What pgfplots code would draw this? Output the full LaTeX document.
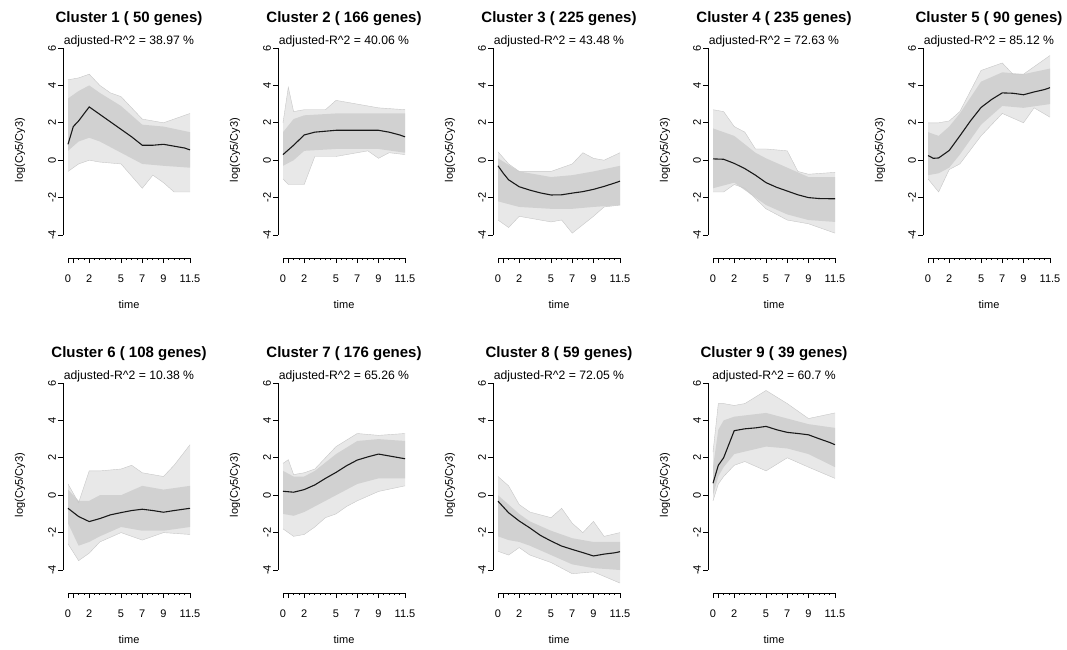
\documentclass[border=0pt]{standalone}
\usepackage{pgfplots}
\pgfplotsset{compat=1.18}
\usepgfplotslibrary{fillbetween}
\usepackage{fontspec}
\setmainfont{Liberation Sans}
\definecolor{bandout}{gray}{0.91}
\definecolor{bandin}{gray}{0.82}
\definecolor{bandedge}{gray}{0.78}
\definecolor{meanline}{gray}{0.10}
\pgfplotsset{
  panelstyle/.style={
    anchor=south west,
    scale only axis, width=122pt, height=187pt,
    xmin=0, xmax=11.5, ymin=-4, ymax=6,
    clip=false,
    axis x line*=bottom, axis y line*=left,
    axis x line shift=23pt, axis y line shift=5pt,
    x axis line style={-, line width=0.8pt},
    y axis line style={-, line width=0.8pt},
    xtick={0,0.5,2,5,7,9,11.5},
    xticklabels={0,,2,5,7,9,11.5},
    minor xtick={1,1.5,2.5,3,3.5,4,4.5,5.5,6,6.5,7.5,8,8.5,9.5,10,10.5,11},
    ytick={-4,-2,0,2,4,6},
    yticklabels={-4,-2,0,2,4,6},
    tick align=outside,
    major tick length=5pt, minor tick length=2pt,
    every tick/.style={black, line width=0.8pt},
    ticklabel style={font=\fontsize{11}{12}\selectfont},
    yticklabel style={rotate=90, anchor=south, yshift=-1.5pt},
    xticklabel style={anchor=north, yshift=-8pt},
    xlabel={time}, ylabel={log(Cy5/Cy3)},
    label style={font=\fontsize{11}{12}\selectfont},
    xlabel style={at={(axis description cs:0.5,-0.374)}, anchor=center},
    ylabel style={at={(axis description cs:-0.393,0.455)}, anchor=center},
  }
}
\newcommand{\panel}[9]{%
\begin{axis}[panelstyle, at={(68pt+215pt*#1, 414pt-335pt*#2)}]
 \addplot[name path=ou, draw=bandedge, line width=0.4pt] coordinates {#5};
 \addplot[name path=ol, draw=bandedge, line width=0.4pt] coordinates {#6};
 \addplot[fill=bandout, draw=none] fill between[of=ou and ol];
 \addplot[name path=iu, draw=none] coordinates {#7};
 \addplot[name path=il, draw=none] coordinates {#8};
 \addplot[fill=bandin, draw=none] fill between[of=iu and il];
 \addplot[meanline, line width=1.1pt] coordinates {#9};
 \node[font=\bfseries\fontsize{15}{17}\selectfont] at (axis description cs:0.5,1) [yshift=29pt] {#3};
 \node[font=\fontsize{12.2}{14}\selectfont] at (axis description cs:0.5,1) [yshift=7pt] {adjusted-R\textasciicircum 2 = #4 \%};
\end{axis}}
\begin{document}
\begin{tikzpicture}
\path (0,0) rectangle (1067pt,649pt);
% Cluster 1
\panel{0}{0}{Cluster 1 ( 50 genes)}{38.97}
 {(0,4.3)(1,4.4)(2,4.6)(3,4.0)(4,3.6)(5,3.4)(7,2.2)(9,2.0)(10,2.2)(11.5,2.5)}
 {(0,-0.6)(1,-0.2)(2,0.0)(3,-0.1)(5,-0.2)(7,-1.5)(8,-0.8)(9,-1.2)(10,-1.7)(11.5,-1.7)}
 {(0,3.3)(1,3.7)(2,4.0)(3,3.6)(5,2.9)(7,1.9)(9,1.8)(11.5,1.5)}
 {(0,0.5)(1,1.0)(2,1.2)(3,1.0)(5,0.4)(7,-0.2)(9,-0.3)(11.5,-0.4)}
 {(0,0.85)(0.5,1.8)(1,2.1)(2,2.85)(3,2.45)(4,2.05)(5,1.65)(6,1.25)(7,0.8)(8,0.8)(9,0.85)(10,0.75)(11,0.65)(11.5,0.55)}
% Cluster 2
\panel{1}{0}{Cluster 2 ( 166 genes)}{40.06}
 {(0,2.0)(0.5,3.9)(1,2.6)(2,2.7)(4,2.7)(5,3.2)(7,3.0)(9,2.8)(11.5,2.7)}
 {(0,-1.0)(0.5,-1.3)(1,-1.3)(2,-1.3)(3,0.2)(5,0.2)(7,0.4)(8,0.5)(9,0.1)(10,0.4)(11.5,0.3)}
 {(0,1.5)(1,2.2)(2,2.4)(5,2.5)(9,2.5)(11.5,2.5)}
 {(0,-0.3)(1,0.0)(2,0.5)(5,0.6)(9,0.6)(11.5,0.4)}
 {(0,0.3)(0.5,0.55)(1,0.8)(2,1.35)(3,1.5)(4,1.55)(5,1.6)(6,1.6)(7,1.6)(8,1.6)(9,1.6)(10,1.5)(11,1.35)(11.5,1.25)}
% Cluster 3
\panel{2}{0}{Cluster 3 ( 225 genes)}{43.48}
 {(0,0.45)(1,-0.2)(2,-0.6)(5,-0.6)(7,-0.2)(8,0.4)(9,0.1)(10,0.0)(11.5,0.4)}
 {(0,-3.2)(1,-3.6)(2,-3.0)(5,-3.3)(6,-3.2)(7,-3.9)(9,-3.0)(10,-2.5)(11.5,-2.4)}
 {(0,0.1)(2,-0.6)(5,-0.9)(7,-0.8)(9,-0.6)(11.5,-0.3)}
 {(0,-2.2)(2,-2.5)(5,-2.6)(7,-2.6)(9,-2.5)(11.5,-2.4)}
 {(0,-0.3)(0.5,-0.7)(1,-1.05)(2,-1.42)(3,-1.6)(4,-1.75)(5,-1.86)(6,-1.85)(7,-1.76)(8,-1.68)(9,-1.56)(10,-1.4)(11,-1.22)(11.5,-1.12)}
% Cluster 4
\panel{3}{0}{Cluster 4 ( 235 genes)}{72.63}
 {(0,2.7)(1,2.6)(2,1.8)(3,1.5)(4,0.6)(5,0.6)(7,0.5)(8,-0.6)(9,-0.75)(11.5,-0.65)}
 {(0,-1.7)(1,-1.7)(2,-1.3)(3,-1.5)(5,-2.6)(7,-3.2)(9,-3.4)(11.5,-3.9)}
 {(0,1.7)(2,1.3)(4,0.4)(5,0.1)(7,-0.4)(9,-0.9)(11.5,-0.9)}
 {(0,-1.5)(2,-1.2)(4,-2.0)(5,-2.4)(7,-2.9)(9,-3.2)(11.5,-3.3)}
 {(0,0.07)(1,0.05)(2,-0.17)(3,-0.45)(4,-0.8)(5,-1.2)(6,-1.45)(7,-1.65)(8,-1.85)(9,-2.0)(10,-2.05)(11,-2.06)(11.5,-2.06)}
% Cluster 5
\panel{4}{0}{Cluster 5 ( 90 genes)}{85.12}
 {(0,2.0)(1,2.0)(2,2.1)(3,2.6)(5,4.8)(7,5.2)(8,4.6)(9,4.6)(11.5,5.6)}
 {(0,-1.0)(1,-1.7)(2,-0.5)(3,-0.2)(5,1.3)(7,2.5)(9,2.0)(10,2.8)(11.5,2.3)}
 {(0,1.5)(1,1.3)(2,1.8)(3,2.5)(5,4.2)(7,4.7)(9,4.6)(11.5,4.9)}
 {(0,-0.8)(1,-0.7)(2,-0.4)(3,0.3)(5,1.9)(7,2.9)(9,2.8)(11.5,3.0)}
 {(0,0.25)(0.5,0.1)(1,0.12)(2,0.52)(3,1.3)(4,2.1)(5,2.82)(6,3.25)(7,3.6)(8,3.58)(9,3.5)(10,3.65)(11,3.78)(11.5,3.88)}
% Cluster 6
\panel{0}{1}{Cluster 6 ( 108 genes)}{10.38}
 {(0,0.6)(1,-0.4)(2,1.3)(3,1.3)(5,1.4)(6,1.6)(7,1.2)(9,1.0)(10,1.6)(11.5,2.7)}
 {(0,-2.6)(1,-3.5)(2,-3.1)(3,-2.5)(5,-2.0)(7,-2.4)(9,-2.0)(11.5,-2.1)}
 {(0,0.3)(1,-0.3)(2,-0.3)(3,0.0)(5,0.0)(7,0.5)(9,0.3)(11.5,0.5)}
 {(0,-1.5)(1,-2.7)(2,-2.5)(3,-2.2)(5,-1.7)(7,-1.9)(9,-1.9)(11.5,-1.7)}
 {(0,-0.7)(1,-1.14)(2,-1.41)(3,-1.25)(4,-1.05)(5,-0.93)(6,-0.82)(7,-0.75)(8,-0.82)(9,-0.91)(10,-0.82)(11,-0.74)(11.5,-0.7)}
% Cluster 7
\panel{1}{1}{Cluster 7 ( 176 genes)}{65.26}
 {(0,1.7)(0.5,1.9)(1,1.1)(2,1.2)(3,1.4)(5,2.6)(7,3.3)(9,3.2)(11.5,3.3)}
 {(0,-1.8)(1,-2.2)(2,-2.1)(3,-1.7)(4,-1.2)(5,-1.0)(6,-0.6)(7,-0.3)(9,0.2)(11.5,0.5)}
 {(0,1.3)(1,1.0)(2,1.0)(3,1.3)(5,2.2)(7,2.9)(9,3.0)(11.5,2.9)}
 {(0,-1.0)(1,-1.1)(2,-0.9)(3,-0.6)(5,0.0)(7,0.6)(9,0.9)(11.5,0.9)}
 {(0,0.21)(1,0.16)(2,0.3)(3,0.55)(4,0.9)(5,1.22)(6,1.58)(7,1.88)(8,2.05)(9,2.2)(10,2.1)(11,2.0)(11.5,1.95)}
% Cluster 8
\panel{2}{1}{Cluster 8 ( 59 genes)}{72.05}
 {(0,1.0)(1,0.5)(2,-0.5)(3,-0.9)(5,-1.2)(6,-0.7)(7,-1.5)(8,-2.0)(9,-1.4)(10,-2.2)(11.5,-2.0)}
 {(0,-3.0)(1,-3.2)(2,-2.8)(3,-3.2)(5,-3.6)(7,-4.2)(9,-4.1)(11.5,-4.7)}
 {(0,0.0)(1,-0.5)(2,-1.0)(3,-1.4)(5,-1.9)(7,-2.3)(9,-2.5)(11.5,-2.5)}
 {(0,-2.2)(1,-2.4)(2,-2.5)(3,-2.7)(5,-3.2)(7,-3.7)(9,-3.9)(11.5,-4.0)}
 {(0,-0.32)(1,-0.94)(2,-1.38)(3,-1.75)(4,-2.15)(5,-2.45)(6,-2.72)(7,-2.9)(8,-3.07)(9,-3.25)(10,-3.15)(11,-3.08)(11.5,-3.02)}
% Cluster 9
\panel{3}{1}{Cluster 9 ( 39 genes)}{60.7}
 {(0,2.3)(0.5,4.9)(1,4.9)(2,4.8)(3,4.9)(5,5.6)(7,4.9)(9,4.1)(11.5,4.4)}
 {(0,-0.3)(0.5,0.6)(1,1.0)(2,1.6)(3,1.8)(5,1.3)(7,2.0)(9,1.5)(11.5,0.9)}
 {(0,1.5)(0.5,3.5)(1,4.0)(2,4.2)(5,4.4)(7,4.1)(9,3.8)(11.5,3.6)}
 {(0,0.0)(0.5,1.0)(1,1.5)(2,2.2)(5,2.6)(7,2.5)(9,2.2)(11.5,1.5)}
 {(0,0.64)(0.5,1.6)(1,2.0)(2,3.45)(3,3.55)(4,3.6)(5,3.68)(6,3.5)(7,3.36)(8,3.3)(9,3.23)(10,3.02)(11,2.82)(11.5,2.7)}
\end{tikzpicture}
\end{document}
